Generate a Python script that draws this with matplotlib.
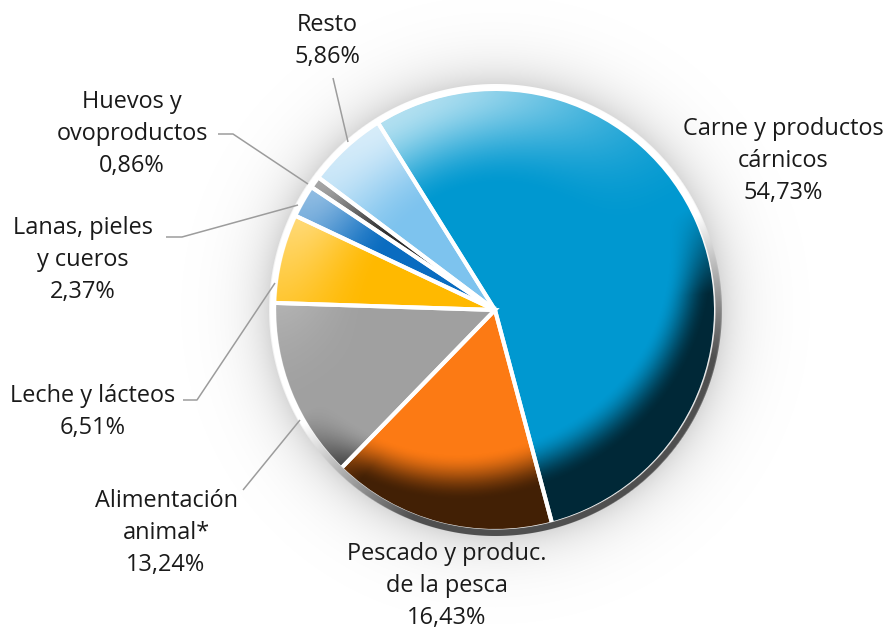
import numpy as np
import matplotlib
matplotlib.use("Agg")
import matplotlib.pyplot as plt

# ---- data ----
categories = ["Carne y productos\ncárnicos", "Pescado y produc.\nde la pesca",
              "Alimentación\nanimal*", "Leche y lácteos", "Lanas, pieles\ny cueros",
              "Huevos y\novoproductos", "Resto"]
values = [54.73, 16.43, 13.24, 6.51, 2.37, 0.86, 5.86]
colors = ["#0098D0", "#FC7A14", "#A0A0A0", "#FFB900", "#0A6CC0", "#2E2E2E", "#7DC3EE"]

# label block centres (pixel coords, y from top) and leader lines
label_pos = [(783, 161), (447, 586), (166, 533), (93, 412), (83, 260), (132, 134), (327, 41)]
leaders = [None, None,
           [(243, 490), (300, 420)],
           [(183, 400), (197, 400), (275, 283)],
           [(166, 237), (182, 237), (298, 205)],
           [(218, 134), (233, 134), (308, 184)],
           [(333, 78), (348, 142)]]

W, H = 888, 630
fig = plt.figure(figsize=(W / 100, H / 100), dpi=100)
ax = fig.add_axes([0, 0, 1, 1])

cx, cy, R = 495, H - 310, 221


def smooth(a, b, x):
    t = np.clip((x - a) / (b - a), 0, 1)
    return t * t * (3 - 2 * t)


yy, xx = np.mgrid[0:H, 0:W] + 0.5
dx, dy = xx - cx, yy - cy
rp = np.hypot(dx, dy)
r = rp / R
theta = np.arctan2(dy, dx)
d = np.cos(theta - np.deg2rad(118))

# soft shadow around the pie
sh = np.zeros((H, W, 4))
sh[..., 3] = np.where(rp > R - 3, 0.19 * np.exp(-np.clip(rp - R, 0, None) / 24.0), 0)
ax.imshow(sh, extent=(0, W, 0, H), origin="lower", zorder=0, interpolation="bilinear")

# wedges
ax.pie(values, colors=colors, startangle=122, counterclock=False,
       center=(cx, cy), radius=R, frame=True,
       wedgeprops=dict(linewidth=0), )
for w in ax.patches:
    w.set_zorder(1)

# bevel shading overlay
nd = np.clip(-d, 0, 1)
pd = np.clip(d, 0, 1)
t0 = 0.86 - 0.26 * nd
a_dark = 0.74 * smooth(t0, t0 + 0.22, r) * np.clip(nd * 2.5, 0, 1)
a_light = 0.70 * pd ** 1.8 * smooth(0.55, 1.0, r)
inside = np.clip(R - rp + 0.5, 0, 1)
ov = np.zeros((H, W, 4))
white = d > 0
ov[..., 0] = white
ov[..., 1] = white
ov[..., 2] = white
ov[..., 3] = (a_light + a_dark) * inside
ax.imshow(ov, extent=(0, W, 0, H), origin="lower", zorder=2, interpolation="bilinear")

# white separators
wedges2, _ = ax.pie(values, startangle=122, counterclock=False,
                    center=(cx, cy), radius=R, frame=True,
                    wedgeprops=dict(facecolor="none", edgecolor="white", linewidth=2.9))
for w in wedges2:
    w.set_zorder(3)

# rim ring
r_in, r_out = R - 1.5, R + 5
ringa = np.clip(rp - r_in + 0.5, 0, 1) * np.clip(r_out - rp + 0.5, 0, 1)
t = np.clip((-d - 0.05) / 0.6, 0, 1)
g = 1 - t * (1 - 0.31)
rim = np.zeros((H, W, 4))
rim[..., 0] = g
rim[..., 1] = g
rim[..., 2] = g
rim[..., 3] = ringa
ax.imshow(rim, extent=(0, W, 0, H), origin="lower", zorder=4, interpolation="bilinear")

# labels
for cat, v, (lx, ly), ld in zip(categories, values, label_pos, leaders):
    txt = cat + "\n" + f"{v:.2f}".replace(".", ",") + "%"
    ax.text(lx, H - ly, txt, ha="center", va="center", fontsize=16.9,
            family="Open Sans", color="#1a1a1a", linespacing=1.47, zorder=6)
    if ld:
        xs = [p[0] for p in ld]
        ys = [H - p[1] for p in ld]
        ax.plot(xs, ys, color="#9c9c9c", lw=1.1, zorder=5, solid_capstyle="butt")

ax.set_xlim(0, W)
ax.set_ylim(0, H)
ax.set_aspect("auto")
ax.axis("off")
fig.savefig("out.png", dpi=100)
